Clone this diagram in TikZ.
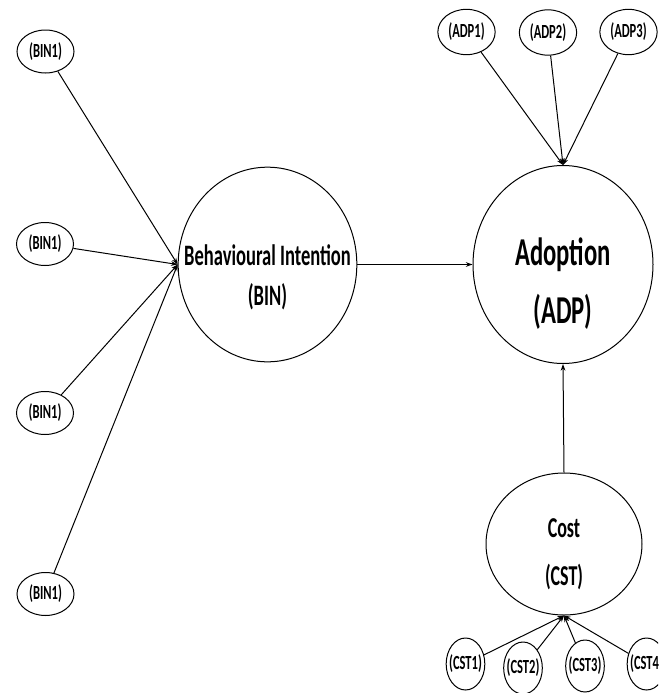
\documentclass[tikz,border=0pt]{standalone}
\usepackage{fontspec}
\setmainfont{Carlito}
\usetikzlibrary{shapes.geometric,arrows.meta}
\newcommand{\tall}[1]{\scalebox{1}[1.6]{#1}}
\newcommand{\itemtext}[1]{\makebox[0pt]{\tall{#1}}}
\tikzset{
    item/.style={draw, ellipse, inner sep=0pt, line width=0.75pt,
        font=\bfseries\fontsize{9.4}{11}\selectfont},
    construct/.style={draw, ellipse, inner sep=0pt, line width=0.75pt},
    ctext/.style={inner sep=0pt, font=\bfseries\fontsize{13.9}{16}\selectfont},
    link/.style={line width=0.75pt, -{Stealth[length=5pt,width=3.5pt]}},
}

\begin{document}
\begin{tikzpicture}[x=0.75pt, y=-0.75pt]
\clip (0,0) rectangle (658,693);

% constructs
\node[construct, minimum width=134pt, minimum height=146pt] (bin) at (267.5,264.5) {};
\node[construct, minimum width=135pt, minimum height=148.5pt] (adp) at (563,264.5) {};
\node[construct, minimum width=117pt, minimum height=106.5pt] (cst) at (564,544) {};

\node[ctext] (binA) at (267.5,255) {\tall{Behavioural Intention}};
\node[ctext] (binB) at (267.5,297) {\tall{(BIN)}};
\node[ctext, font=\bfseries\fontsize{18.5}{22}\selectfont] (adpA) at (563,255) {\tall{Adoption}};
\node[ctext, font=\bfseries\fontsize{18.5}{22}\selectfont] (adpB) at (563,312) {\tall{(ADP)}};
\node[ctext, font=\bfseries\fontsize{13.5}{16}\selectfont] (cstA) at (564,528) {\tall{Cost}};
\node[ctext, font=\bfseries\fontsize{13.5}{16}\selectfont] (cstB) at (564,577) {\tall{(CST)}};

% indicators
\node[item, minimum width=42.75pt, minimum height=32.25pt] (bin1) at (45.5,51.5) {\itemtext{(BIN1)}};
\node[item, minimum width=42.75pt, minimum height=32.25pt] (bin2) at (45,244) {\itemtext{(BIN1)}};
\node[item, minimum width=42.75pt, minimum height=32.25pt] (bin3) at (45,413) {\itemtext{(BIN1)}};
\node[item, minimum width=42.75pt, minimum height=32.25pt] (bin4) at (45.5,594) {\itemtext{(BIN1)}};

\node[item, minimum width=43pt, minimum height=34pt] (adp1) at (466.5,32) {\itemtext{(ADP1)}};
\node[item, minimum width=43pt, minimum height=34pt] (adp2) at (548,32.5) {\itemtext{(ADP2)}};
\node[item, minimum width=43pt, minimum height=34pt] (adp3) at (628.5,32) {\itemtext{(ADP3)}};

\node[item, minimum width=29pt, minimum height=39pt] (cst1) at (465.5,664) {\itemtext{(CST1)}};
\node[item, minimum width=29pt, minimum height=39pt] (cst2) at (523,668) {\itemtext{(CST2)}};
\node[item, minimum width=29pt, minimum height=39pt] (cst3) at (585,666) {\itemtext{(CST3)}};
\node[item, minimum width=29pt, minimum height=39pt] (cst4) at (646.5,664) {\itemtext{(CST4)}};

% paths
\draw[link] (bin1) -- (bin.west);
\draw[link] (bin2) -- (bin.west);
\draw[link] (bin3) -- (bin.west);
\draw[link] (bin4) -- (bin.west);

\draw[link] (adp1) -- (adp.north);
\draw[link] (adp2) -- (adp.north);
\draw[link] (adp3) -- (adp.north);

\draw[link] (cst1) -- (cst.south);
\draw[link] (cst2) -- (cst.south);
\draw[link] (cst3) -- (cst.south);
\draw[link] (cst4) -- (cst.south);

\draw[link] (bin.east) -- (adp.west);
\draw[link] (cst.north) -- (adp.south);
\end{tikzpicture}
\end{document}
